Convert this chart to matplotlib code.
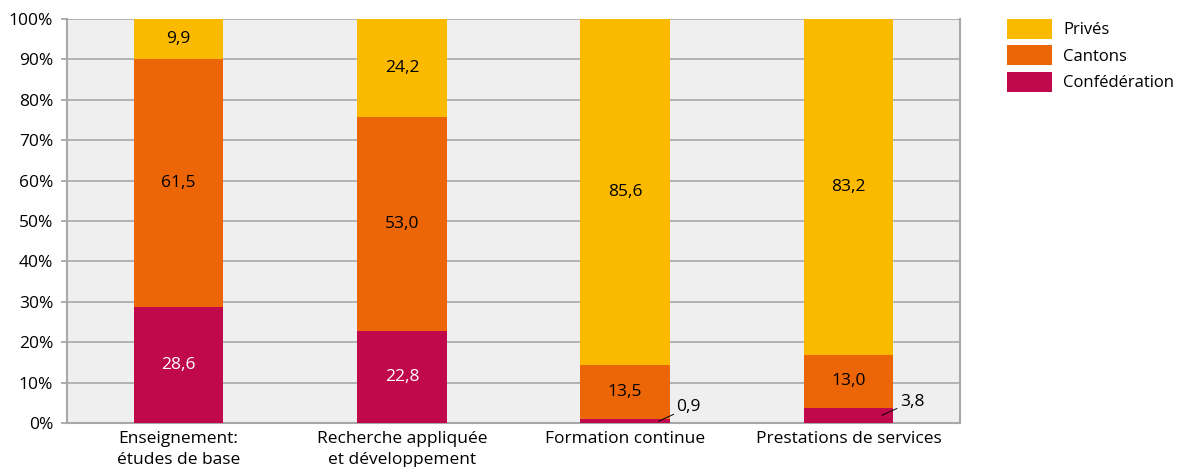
import matplotlib.pyplot as plt
import numpy as np

plt.rcParams['font.family'] = ['Open Sans', 'DejaVu Sans']

categories = ['Enseignement:\nétudes de base', 'Recherche appliquée\net développement',
              'Formation continue', 'Prestations de services']
confederation = [28.6, 22.8, 0.9, 3.8]
cantons = [61.5, 53.0, 13.5, 13.0]
prives = [9.9, 24.2, 85.6, 83.2]

c_conf = '#C0094A'
c_cant = '#EC6608'
c_priv = '#FBBA00'
fs = 12.5

fig = plt.figure(figsize=(11.77, 4.67), dpi=100)
ax = fig.add_axes([67 / 1177, 44 / 467, 893 / 1177, 404 / 467])
ax.set_facecolor('#EFEFEF')

x = np.arange(len(categories))
w = 0.4
conf = np.array(confederation)
cant = np.array(cantons)
priv = np.array(prives)

ax.bar(x, conf, w, color=c_conf, label='Confédération', zorder=3)
ax.bar(x, cant, w, bottom=conf, color=c_cant, label='Cantons', zorder=3)
ax.bar(x, priv, w, bottom=conf + cant, color=c_priv, label='Privés', zorder=3)

fmt = lambda v: f'{v:.1f}'.replace('.', ',')
for i in range(len(categories)):
    # Confédération: inside label when big enough, else leader line to the right
    if conf[i] > 5:
        ax.text(x[i], conf[i] / 2, fmt(conf[i]), ha='center', va='center',
                color='white', fontsize=fs, zorder=4)
    else:
        ax.annotate(fmt(conf[i]), xy=(x[i] + w / 2 - 0.05, conf[i] / 2),
                    xytext=(x[i] + w / 2 + 0.03, conf[i] / 2 + 3.4),
                    ha='left', va='center', fontsize=fs, zorder=5,
                    arrowprops=dict(arrowstyle='-', color='black', lw=0.7,
                                    shrinkA=0, shrinkB=0))
    ax.text(x[i], conf[i] + cant[i] / 2, fmt(cant[i]), ha='center', va='center',
            color='black', fontsize=fs, zorder=4)
    ax.text(x[i], conf[i] + cant[i] + priv[i] / 2, fmt(priv[i]), ha='center',
            va='center', color='black', fontsize=fs, zorder=4)

ax.set_xlim(-0.5, len(categories) - 0.5)
ax.set_ylim(0, 100)
ax.set_yticks(np.arange(0, 101, 10))
ax.set_yticklabels([f'{v}%' for v in range(0, 101, 10)], fontsize=fs)
ax.set_xticks(x)
ax.set_xticklabels(categories, fontsize=fs, linespacing=1.35)
ax.tick_params(axis='x', length=0, pad=6)
ax.tick_params(axis='y', length=4, color='#A0A0A0', width=1.2, pad=6)
ax.yaxis.grid(True, color='#A8A8A8', linewidth=1.2, zorder=0)
for side in ['left', 'right', 'bottom']:
    ax.spines[side].set_color('#A8A8A8')
    ax.spines[side].set_linewidth(1.5)
ax.spines['top'].set_visible(False)

handles, labels = ax.get_legend_handles_labels()
fig.legend(handles[::-1], labels[::-1], loc='upper left',
           bbox_to_anchor=(1007 / 1177, 1 - 19 / 467), frameon=False,
           fontsize=12, handlelength=2.7, handleheight=1.45,
           labelspacing=0.4, handletextpad=0.66, borderaxespad=0, borderpad=0)

fig.savefig('out.png', dpi=100)
